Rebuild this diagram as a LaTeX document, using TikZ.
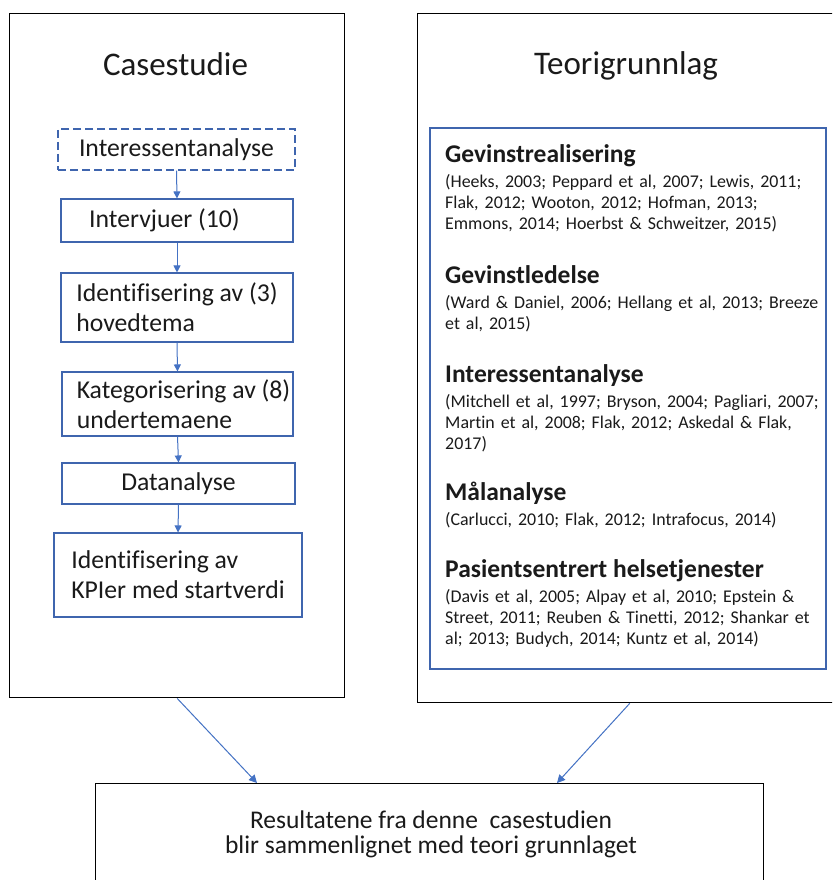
\documentclass[tikz,border=0pt]{standalone}
\usepackage{fontspec}
\setmainfont{Carlito}[Ligatures=NoCommon]
\usetikzlibrary{arrows.meta}
\definecolor{boxblue}{HTML}{3F65AE}
\definecolor{arrblue}{HTML}{4472C4}
\definecolor{txt}{HTML}{1A1A1A}
\tikzset{
  outerbox/.style={draw=black, line width=1.4pt, inner sep=0pt, anchor=north west},
  stepbox/.style={draw=boxblue, line width=1.1pt, align=left, inner sep=0pt, text=txt,
    font=\fontsize{25.7}{30}\selectfont},
  dashbox/.style={stepbox, dash pattern=on 8pt off 4pt},
  flow/.style={draw=arrblue, line width=1pt, -{Triangle[length=7pt,width=7pt]}},
  bigflow/.style={draw=arrblue, line width=1pt, -{Triangle[length=8pt,width=8pt]}},
  titletext/.style={font=\fontsize{33}{36}\selectfont, text=txt, inner sep=0pt, anchor=base},
  litsec/.style={text width=392pt, align=left, inner sep=0pt, anchor=base west, text=txt,
    font=\fontsize{17.9}{20.7}\selectfont},
}
\newcommand{\hd}[1]{{\fontsize{25.5}{26}\selectfont\bfseries #1}}
\begin{document}
\begin{tikzpicture}[x=1pt, y=-1pt]
\useasboundingbox (0,0) rectangle (832,880);
\clip (0,0) rectangle (832,880);
\fill[white] (0,0) rectangle (832,880);

% outer boxes
\node[outerbox, minimum width=335pt, minimum height=684pt] (case) at (9,13) {};
\node[outerbox, minimum width=424pt, minimum height=689pt] (teori) at (417,13) {};
\node[outerbox, minimum width=668pt, minimum height=140pt] (res) at (95,783) {};

% titles
\node[titletext] (casetitle) at (175.5,76) {Casestudie};
\node[titletext] (teorititle) at (626,75) {Teorigrunnlag};

% left flow
\node[dashbox, minimum width=237pt, minimum height=41pt] (b1) at (176.5,149.5) {Interessentanalyse};
\node[stepbox, minimum width=232pt, minimum height=43pt] (b2) at (177,220.5) {Intervjuer (10)\hspace*{25pt}};
\node[stepbox, minimum width=232pt, minimum height=69pt] (b3) at (177,307.5) {Identifisering av (3)\\hovedtema};
\node[stepbox, minimum width=231pt, minimum height=64pt] (b4) at (177.5,404) {\hspace*{12pt}Kategorisering av (8)\\\hspace*{12pt}undertemaene};
\node[stepbox, minimum width=233pt, minimum height=41pt] (b5) at (178.5,483.5) {Datanalyse};
\node[stepbox, minimum width=248pt, minimum height=84pt] (b6) at (178,575) {Identifisering av\\KPIer med startverdi};

\draw[flow] (b1.south) -- (b2.north);
\draw[flow] (b2.south) -- (b3.north);
\draw[flow] (b3.south) -- (b4.north);
\draw[flow] (b4.south) -- (b5.north);
\draw[flow] (b5.south) -- (b6.north);

% literature box
\node[draw=boxblue, line width=1.1pt, inner sep=0pt, minimum width=396pt, minimum height=541pt] (lit) at (628,398.5) {};

\node[litsec] (s1) at (445,162) {\hd{Gevinstrealisering}\\[5pt]
(Heeks, 2003; Peppard et al, 2007; Lewis, 2011;\\
Flak, 2012; Wooton, 2012; Hofman, 2013;\\
Emmons, 2014; Hoerbst \& Schweitzer, 2015)};
\node[litsec] (s2) at (445,283) {\hd{Gevinstledelse}\\[5pt]
(Ward \& Daniel, 2006; Hellang et al, 2013; Breeze\\
et al, 2015)};
\node[litsec] (s3) at (445,382) {\hd{Interessentanalyse}\\[5pt]
(Mitchell et al, 1997; Bryson, 2004; Pagliari, 2007;\\
Martin et al, 2008; Flak, 2012; Askedal \& Flak,\\
2017)};
\node[litsec] (s4) at (445,500) {\hd{Målanalyse}\\[5pt]
(Carlucci, 2010; Flak, 2012; Intrafocus, 2014)};
\node[litsec] (s5) at (445,577) {\hd{Pasientsentrert helsetjenester}\\[5pt]
(Davis et al, 2005; Alpay et al, 2010; Epstein \&\\
Street, 2011; Reuben \& Tinetti, 2012; Shankar et\\
al; 2013; Budych, 2014; Kuntz et al, 2014)};

% bottom text
\node[align=center, inner sep=0pt, anchor=base, text=txt, font=\fontsize{25.5}{25}\selectfont] (restext) at (431,853)
  {Resultatene fra denne \ casestudien\\blir sammenlignet med teori grunnlaget};

% converging arrows
\coordinate (inL) at (257,783);
\coordinate (inR) at (557,783);
\draw[bigflow] (case.south) -- (inL);
\draw[bigflow] (teori.south) -- (inR);
\end{tikzpicture}
\end{document}
